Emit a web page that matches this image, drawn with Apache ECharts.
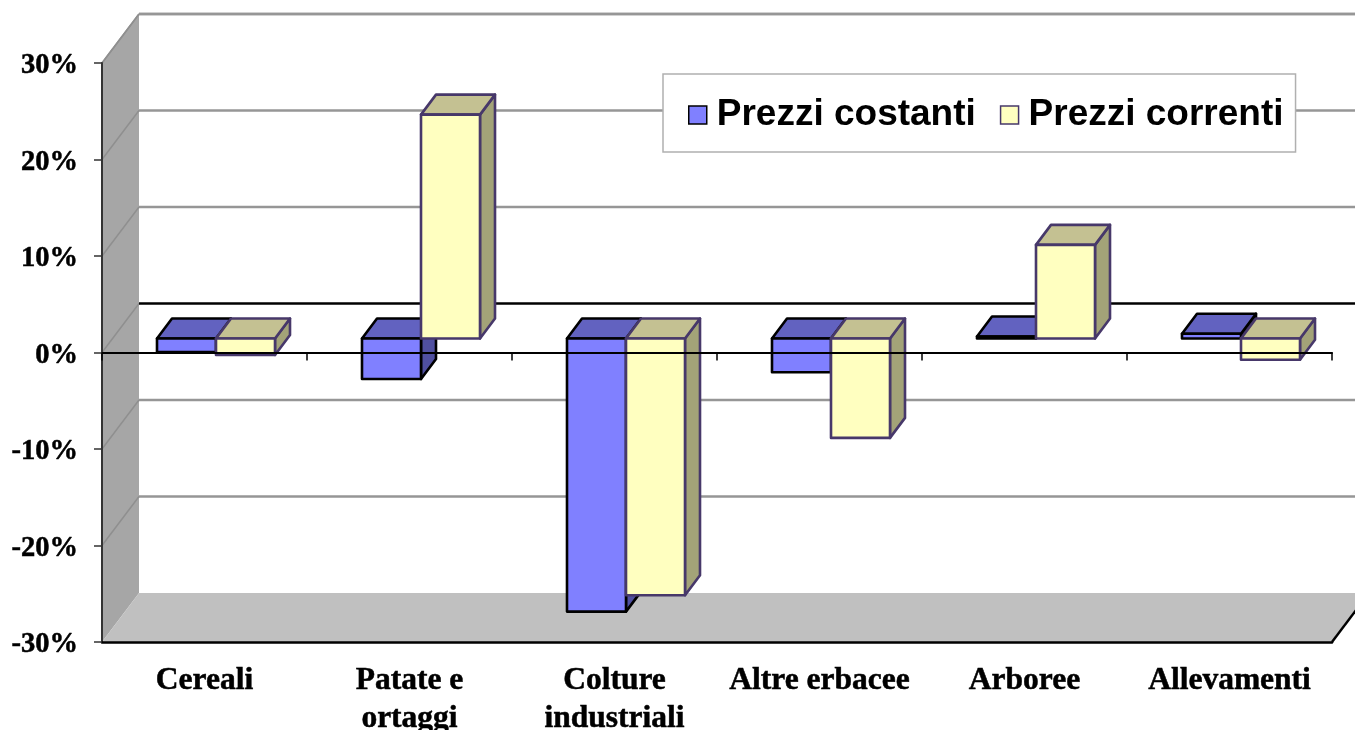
<!DOCTYPE html>
<html>
<head>
<meta charset="utf-8">
<style>html,body{margin:0;padding:0;background:#fff;overflow:hidden}#c{width:1355px;height:730px}</style>
<script src="https://cdn.jsdelivr.net/npm/echarts@6/dist/echarts.min.js"></script>
</head>
<body>
<div id="c"></div>
<script>
var categories = ['Cereali', 'Patate e\nortaggi', 'Colture\nindustriali', 'Altre erbacee', 'Arboree', 'Allevamenti'];
var prezziCostanti = [-1.4, -4.2, -28.3, -3.5, 0.2, 0.5];
var prezziCorrenti = [-1.7, 23.2, -26.6, -10.3, 9.7, -2.2];
var yTicks = [-20, -10, 10, 20, 30];

var serifBold = { fontFamily: '"Liberation Serif", serif', fontWeight: 'bold', color: '#000', textBorderColor: '#000', textBorderWidth: 0.5 };
var WALL_DX = 37, WALL_DY = -49;      // depth of the chart box
var BAR_DX = 15, BAR_DY = -20;        // depth of a bar
var ROW_DX = 11.5, ROW_DY = -14;      // shift of the bar row from the front plane
var BAR_W_FRACTION = 59 / 205;

function poly(points, fill, stroke, lw) {
  return { type: 'polygon', shape: { points: points },
    style: { fill: fill, stroke: stroke || null, lineWidth: lw || 0, lineJoin: 'round' } };
}
function seg(x1, y1, x2, y2, stroke, lw) {
  return { type: 'line', shape: { x1: x1, y1: y1, x2: x2, y2: y2 }, style: { stroke: stroke, lineWidth: lw } };
}

function renderBox(params, api) {
  var cs = params.coordSys;
  var l = cs.x, r = cs.x + cs.width, t = cs.y, b = cs.y + cs.height;
  var z = api.coord([0, 0])[1];
  return { type: 'group', children: [
    poly([[l, t], [l + WALL_DX, t + WALL_DY], [l + WALL_DX, b + WALL_DY], [l, b]], '#a6a6a6'),
    poly([[l, b], [l + WALL_DX, b + WALL_DY], [r + WALL_DX, b + WALL_DY], [r, b]], '#c0c0c0'),
    seg(l, t, l + WALL_DX, t + WALL_DY, '#8f8f8f', 1.5),
    seg(l + WALL_DX, t + WALL_DY, r + WALL_DX, t + WALL_DY, '#969696', 2.5),
    seg(r, b, r + WALL_DX, b + WALL_DY, '#000', 2.5),
    seg(l, z, l + WALL_DX, z + WALL_DY, '#8f8f8f', 1.5),
    seg(l + WALL_DX, z + WALL_DY, r + WALL_DX, z + WALL_DY, '#000', 2.5)
  ] };
}
function renderGrid(params, api) {
  var cs = params.coordSys;
  var l = cs.x, r = cs.x + cs.width;
  var y = api.coord([0, api.value(1)])[1];
  return { type: 'group', children: [
    seg(l, y, l + WALL_DX, y + WALL_DY, '#8f8f8f', 1.5),
    seg(l + WALL_DX, y + WALL_DY, r + WALL_DX, y + WALL_DY, '#969696', 2.5)
  ] };
}
function barRenderer(side, front, top, sideFill, stroke) {
  return function (params, api) {
    var c0 = api.coord([api.value(0), 0]);
    var c1 = api.coord([api.value(0), api.value(1)]);
    var w = api.size([1, 0])[0] * BAR_W_FRACTION;
    var x0 = c0[0] + ROW_DX + (side < 0 ? -w : 0), x1 = x0 + w;
    var yZero = c0[1] + ROW_DY, yVal = c1[1] + ROW_DY;
    var yTop = Math.min(yZero, yVal), yBot = Math.max(yZero, yVal);
    return { type: 'group', children: [
      poly([[x1, yTop], [x1 + BAR_DX, yTop + BAR_DY], [x1 + BAR_DX, yBot + BAR_DY], [x1, yBot]], sideFill, stroke, 2.6),
      poly([[x0, yTop], [x0 + BAR_DX, yTop + BAR_DY], [x1 + BAR_DX, yTop + BAR_DY], [x1, yTop]], top, stroke, 2.6),
      poly([[x0, yTop], [x1, yTop], [x1, yBot], [x0, yBot]], front, stroke, 2.6)
    ] };
  };
}
function pairs(values) { return values.map(function (v, i) { return [i, v]; }); }

var chart = echarts.init(document.getElementById('c'), null, { renderer: 'canvas' });
chart.setOption({
  animation: false,
  backgroundColor: '#fff',
  grid: { left: 102, right: 23, top: 63, bottom: 88, containLabel: false, outerBoundsMode: 'none' },
  legend: {
    left: 663, top: 74, orient: 'horizontal',
    padding: [18, 12, 14, 25],
    backgroundColor: '#fff', borderColor: '#b0b0b0', borderWidth: 1.5,
    itemWidth: 18, itemHeight: 18, itemGap: 24,
    data: [
      { name: 'Prezzi costanti', icon: 'rect', itemStyle: { color: '#8080ff', borderColor: '#000', borderWidth: 1.5 } },
      { name: 'Prezzi correnti', icon: 'rect', itemStyle: { color: '#ffffc0', borderColor: '#47386a', borderWidth: 1.5 } }
    ],
    textStyle: { fontFamily: '"Liberation Sans", Arial, sans-serif', fontWeight: 'bold', fontSize: 37, lineHeight: 42, color: '#000', padding: [4, 0, 0, 5] }
  },
  xAxis: [
    { type: 'category', data: categories, position: 'bottom', z: 10,
      axisLine: { onZero: false, lineStyle: { color: '#000', width: 2.5 } },
      axisTick: { show: false },
      axisLabel: Object.assign({ interval: 0, fontSize: 31.5, lineHeight: 38, margin: 20, hideOverlap: false }, serifBold) },
    { type: 'category', data: categories, position: 'bottom', z: 10,
      axisLine: { onZero: true, lineStyle: { color: '#000', width: 2 } },
      axisTick: { show: true, length: 8, lineStyle: { color: '#000', width: 1.5 } },
      axisLabel: { show: false } }
  ],
  yAxis: {
    type: 'value', min: -30, max: 30, interval: 10, z: 10,
    axisLine: { show: true, onZero: false, lineStyle: { color: '#333', width: 2 } },
    axisTick: { show: true, length: 8, lineStyle: { color: '#333', width: 1.5 } },
    splitLine: { show: false },
    axisLabel: {
      formatter: '{v|{value}%}', margin: 24,
      rich: { v: Object.assign({ fontSize: 28.5, padding: [6, 0, 0, 0] }, serifBold) }
    }
  },
  series: [
    { type: 'custom', silent: true, z: 1, renderItem: renderBox, data: [[0, 0]], encode: { x: 0, y: 1 } },
    { type: 'custom', silent: true, z: 1, renderItem: renderGrid, data: yTicks.map(function (t) { return [0, t]; }), encode: { x: 0, y: 1 } },
    { name: 'Prezzi costanti', type: 'custom', z: 2, renderItem: barRenderer(-1, '#8080ff', '#6262c0', '#5050a0', '#000'),
      itemStyle: { color: '#8080ff' }, data: pairs(prezziCostanti), encode: { x: 0, y: 1 } },
    { name: 'Prezzi correnti', type: 'custom', z: 3, renderItem: barRenderer(1, '#ffffc0', '#c4c192', '#a3a378', '#47386a'),
      itemStyle: { color: '#ffffc0' }, data: pairs(prezziCorrenti), encode: { x: 0, y: 1 } }
  ]
});
</script>
</body>
</html>
